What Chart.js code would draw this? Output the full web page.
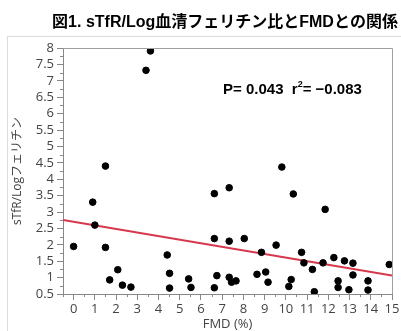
<!DOCTYPE html>
<html>
<head>
<meta charset="utf-8">
<script src="https://cdn.jsdelivr.net/npm/chart.js@4/dist/chart.umd.min.js"></script>
<style>
  html, body { margin: 0; padding: 0; background: #fff; }
  #wrap { width: 401px; height: 331px; }
</style>
</head>
<body>
<div id="wrap"><canvas id="grafico" width="401" height="331"></canvas></div>
<script>
// Datos: FMD (%) vs sTfR/Log ferritina
const fmd = [0, 0.9, 1.0, 1.5, 1.5, 1.7, 2.08, 2.3, 2.7, 3.41,
    3.62, 4.41, 4.52, 4.52, 5.42, 5.53, 6.63, 6.63, 6.63, 6.75,
    7.33, 7.33, 7.33, 7.44, 7.65, 8.04, 8.64, 8.85, 9.05, 9.16,
    9.54, 9.81, 10.14, 10.25, 10.35, 10.74, 10.85, 11.25, 11.34, 11.75,
    11.85, 12.26, 12.46, 12.46, 12.76, 12.97, 13.16, 13.16, 13.87, 13.87,
    14.87];
const ratio = [1.95, 3.30, 2.60, 4.40, 1.92, 0.93, 1.24, 0.77, 0.71, 7.32,
    7.91, 1.69, 1.13, 0.68, 0.96, 0.70, 3.56, 2.19, 0.69, 1.06,
    3.74, 2.11, 1.01, 0.86, 0.90, 2.19, 1.10, 1.77, 1.17, 0.86,
    1.99, 4.37, 0.73, 0.94, 3.55, 1.77, 1.45, 1.25, 0.57, 1.45,
    3.08, 1.61, 0.90, 0.70, 1.51, 0.63, 1.44, 1.08, 0.90, 0.62,
    1.40];

// recta de regresión
const fitX = [-0.5, 15];
const fitIntercept = 2.70;
const fitSlope = -0.109;

const xTicks = [0, 1, 2, 3, 4, 5, 6, 7, 8, 9, 10, 11, 12, 13, 14, 15];
const yTicks = [0.5, 1, 1.5, 2, 2.5, 3, 3.5, 4, 4.5, 5, 5.5, 6, 6.5, 7, 7.5, 8];

const titulo = '図1. sTfR/Log血清フェリチン比とFMDとの関係';
const tituloX = 'FMD (%)';
const tituloY = 'sTfR/Logフェリチン';

const puntos = fmd.map((v, i) => ({ x: v, y: ratio[i] }));
const recta = fitX.map(v => ({ x: v, y: fitIntercept + fitSlope * v }));

const tickFont = { family: '"Open Sans", sans-serif', size: 13 };

// Marco exterior, título, anotación y ticks menores
const extras = {
    id: 'extras',
    beforeDraw(chart) {
        const c = chart.ctx;
        c.save();
        c.strokeStyle = '#dcdcdc';
        c.lineWidth = 1;
        c.strokeRect(7.5, 36.5, 400, 300);
        c.restore();
    },
    afterDraw(chart) {
        const c = chart.ctx;
        const a = chart.chartArea;
        const sx = chart.scales.x, sy = chart.scales.y;
        c.save();
        // borde superior y derecho del área
        c.strokeStyle = '#a0a0a0';
        c.lineWidth = 1;
        c.beginPath();
        c.moveTo(a.left, a.top + 0.5);
        c.lineTo(a.right + 0.5, a.top + 0.5);
        c.lineTo(a.right + 0.5, a.bottom);
        c.stroke();

        // ticks menores
        c.strokeStyle = '#888';
        c.beginPath();
        for (let v = 0.75; v < 8; v += 0.5) {
            const py = Math.round(sy.getPixelForValue(v)) + 0.5;
            c.moveTo(a.left - 3, py);
            c.lineTo(a.left, py);
        }
        for (let v = -0.5; v <= 15; v += 0.5) {
            if (Number.isInteger(v)) continue;
            const px = Math.round(sx.getPixelForValue(v)) + 0.5;
            c.moveTo(px, a.bottom);
            c.lineTo(px, a.bottom + 3);
        }
        c.stroke();

        // título
        c.fillStyle = '#000';
        c.font = 'bold 16px "Liberation Sans", "Noto Sans CJK JP", sans-serif';
        c.textAlign = 'center';
        c.textBaseline = 'alphabetic';
        c.fillText(titulo, 225, 27);

        // anotación P y r²
        c.textAlign = 'left';
        c.font = 'bold 15px "Liberation Sans", Arial, sans-serif';
        let x = 223;
        const base = 94;
        const p1 = 'P= 0.043  r';
        c.fillText(p1, x, base);
        x += c.measureText(p1).width;
        c.font = 'bold 9px "Liberation Sans", Arial, sans-serif';
        c.fillText('2', x, base - 7);
        x += c.measureText('2').width;
        c.font = 'bold 15px "Liberation Sans", Arial, sans-serif';
        c.fillText('= \u22120.083', x, base);
        c.restore();
    }
};

const ctx = document.getElementById('grafico').getContext('2d');
new Chart(ctx, {
    type: 'scatter',
    data: {
        datasets: [{
            data: puntos,
            backgroundColor: '#000',
            borderColor: '#000',
            pointRadius: 3.3,
            pointHoverRadius: 3.3
        }, {
            type: 'line',
            data: recta,
            borderColor: '#d6374a',
            borderWidth: 2,
            pointRadius: 0,
            fill: false
        }]
    },
    options: {
        responsive: false,
        animation: false,
        layout: { padding: { left: 0, right: 9, top: 48, bottom: 0 } },
        plugins: {
            legend: { display: false },
            tooltip: { enabled: false }
        },
        scales: {
            x: {
                type: 'linear',
                min: -0.5,
                max: 15,
                afterBuildTicks: (s) => { s.ticks = xTicks.map(v => ({ value: v })); },
                afterFit: (s) => { s.height = 37; },
                ticks: { color: '#444', font: tickFont, padding: 1, maxRotation: 0, autoSkip: false,
                    callback: (v) => String(v) },
                grid: { drawOnChartArea: false, drawTicks: true, tickLength: 6, color: '#888' },
                border: { display: true, color: '#888' },
                title: {
                    display: true,
                    text: tituloX,
                    color: '#444',
                    font: { family: '"Open Sans", sans-serif', size: 13, lineHeight: 1 },
                    padding: { top: 0, bottom: 0 }
                }
            },
            y: {
                type: 'linear',
                min: 0.5,
                max: 8,
                afterBuildTicks: (s) => { s.ticks = yTicks.map(v => ({ value: v })); },
                afterFit: (s) => { s.width = 63; },
                ticks: { color: '#444', font: tickFont, padding: 3, autoSkip: false,
                    callback: (v) => String(v) },
                grid: { drawOnChartArea: false, drawTicks: true, tickLength: 6, color: '#888' },
                border: { display: true, color: '#888' },
                title: {
                    display: true,
                    text: tituloY,
                    color: '#444',
                    font: { family: '"Open Sans", "Noto Sans CJK JP", sans-serif', size: 12 },
                    padding: { top: 10, bottom: 0 }
                }
            }
        }
    },
    plugins: [extras]
});
</script>
</body>
</html>
